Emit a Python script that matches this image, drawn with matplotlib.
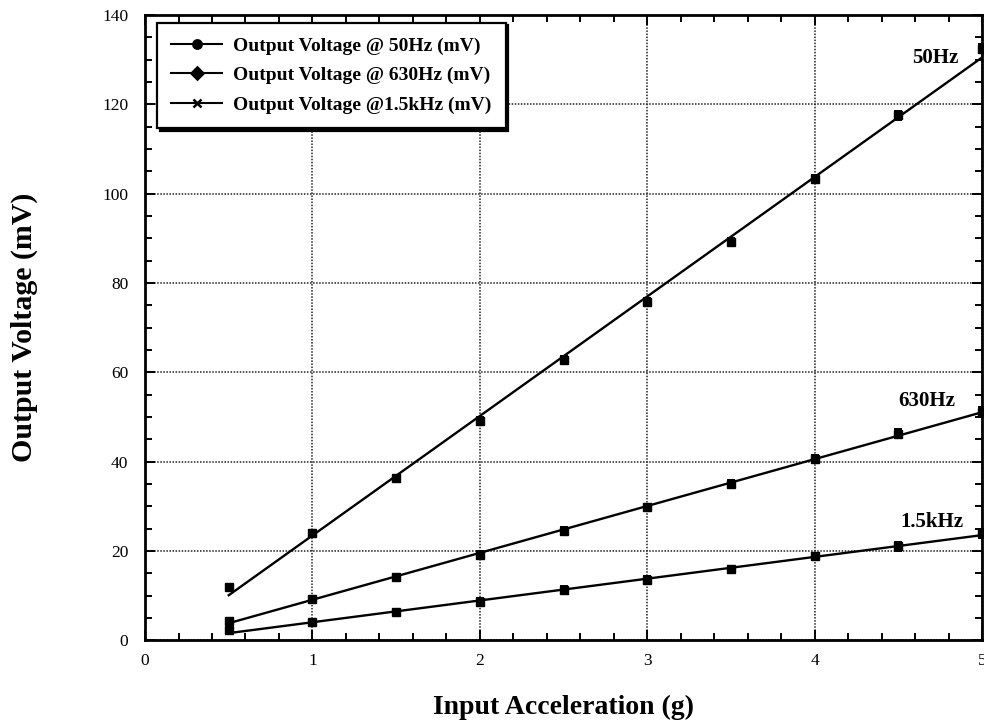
import numpy as np
import matplotlib
matplotlib.use("Agg")
import matplotlib.pyplot as plt
from matplotlib.lines import Line2D
from matplotlib.ticker import MultipleLocator

# Measured output voltage versus input acceleration at three drive frequencies
accel_g = [0.5, 1.0, 1.5, 2.0, 2.5, 3.0, 3.5, 4.0, 4.5, 5.0]
v_50hz = [12.0, 24.0, 36.4, 49.2, 62.8, 75.8, 89.3, 103.4, 117.6, 132.5]
v_630hz = [4.4, 9.2, 14.2, 19.1, 24.5, 29.8, 35.1, 40.6, 46.3, 51.2]
v_1k5hz = [2.2, 4.0, 6.3, 8.6, 11.3, 13.5, 15.9, 18.8, 21.1, 24.0]
v_err = [0.6, 0.6, 0.6, 0.8, 0.8, 0.8, 0.8, 0.8, 1.0, 1.0]

series_labels = ["Output Voltage @ 50Hz (mV)",
                 "Output Voltage @ 630Hz (mV)",
                 "Output Voltage @1.5kHz (mV)"]
curve_tags = ["50Hz", "630Hz", "1.5kHz"]
tag_positions = [(4.72, 130.5), (4.67, 53.6), (4.70, 26.5)]
legend_markers = ["o", "D", "x"]

x_ticks = [0, 1, 2, 3, 4, 5]
y_ticks = [0, 20, 40, 60, 80, 100, 120, 140]

serif = ["Liberation Serif", "DejaVu Serif"]
plt.rcParams["font.family"] = serif

fig = plt.figure(figsize=(9.84, 7.21), dpi=100)
ax = fig.add_axes([0.1474, 0.112, 0.8506, 0.867])

x = np.array(accel_g)
for ys in (v_50hz, v_630hz, v_1k5hz):
    ys = np.array(ys)
    # least-squares straight line through the measurements
    slope, icpt = np.polyfit(x, ys, 1)
    ax.plot(x, slope * x + icpt, color="black", lw=1.7, zorder=3)
    ax.errorbar(x, ys, yerr=v_err, fmt="s", ms=6, color="black",
                ecolor="black", elinewidth=1.2, capsize=3, capthick=1.4,
                zorder=4, clip_on=False)

for tag, (tx, ty) in zip(curve_tags, tag_positions):
    ax.text(tx, ty, tag, ha="center", va="center", fontsize=15,
            fontweight="bold", family=serif)

ax.set_xlim(0, 5)
ax.set_ylim(0, 140)
ax.set_xticks(x_ticks)
ax.set_yticks(y_ticks)
ax.xaxis.set_minor_locator(MultipleLocator(0.2))
ax.yaxis.set_minor_locator(MultipleLocator(5))
ax.tick_params(which="both", direction="in", top=True, right=True,
               labelsize=12.5, width=1.4)
ax.tick_params(which="major", length=7)
ax.tick_params(which="minor", length=5)
ax.tick_params(axis="x", pad=9)
ax.tick_params(axis="y", pad=12)
for sp in ax.spines.values():
    sp.set_linewidth(2.0)

ax.grid(True, which="major", color="#222222", linestyle=(0, (1, 1)),
        linewidth=1.1, zorder=1)
ax.set_axisbelow(True)

ax.set_xlabel("Input Acceleration (g)", fontsize=20, fontweight="bold",
              labelpad=19)
ax.set_ylabel("Output Voltage (mV)", fontsize=21.5, fontweight="bold",
              labelpad=46)

handles = [Line2D([0], [0], color="black", lw=1.5, marker=m, ms=6,
                  markeredgewidth=1.8) for m in legend_markers]
leg = ax.legend(handles, series_labels, loc="upper left",
                bbox_to_anchor=(0.014, 0.988), frameon=True, fancybox=False,
                shadow={"color": "black", "alpha": 1.0},
                prop={"family": serif, "weight": "bold", "size": 14},
                handlelength=2.6, handletextpad=0.55, borderpad=0.75,
                labelspacing=0.6, borderaxespad=0)
leg.get_frame().set_edgecolor("black")
leg.get_frame().set_linewidth(1.6)
leg.get_frame().set_facecolor("white")

fig.savefig("out.png", dpi=100, facecolor="white")
